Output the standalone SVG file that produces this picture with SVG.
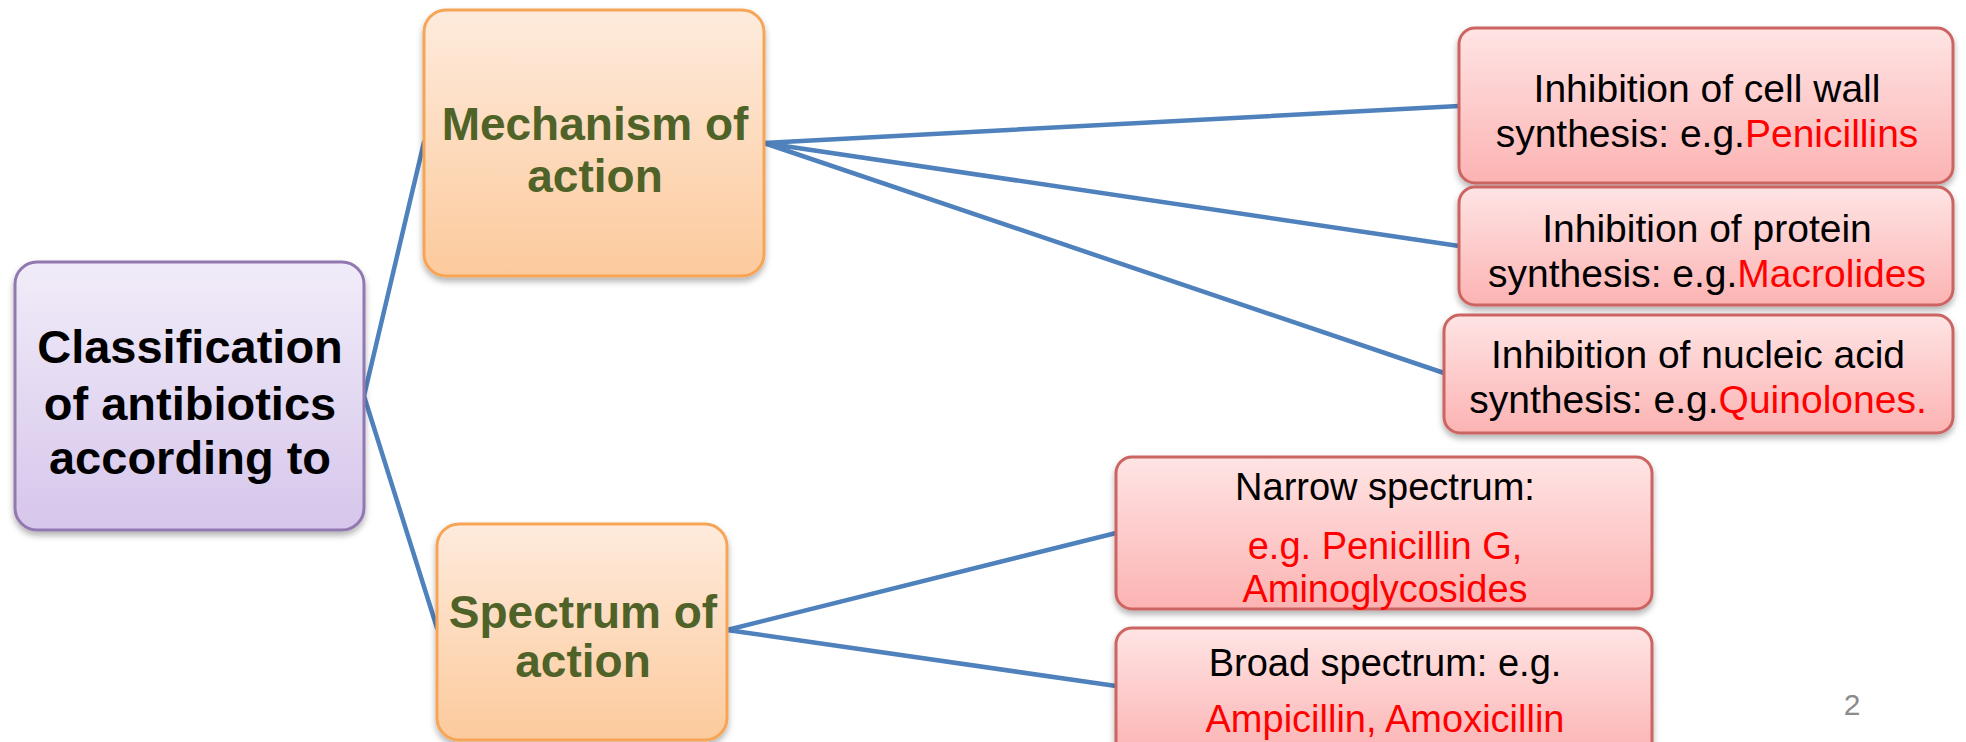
<svg xmlns="http://www.w3.org/2000/svg" width="1966" height="742" viewBox="0 0 1966 742">
<defs>
<linearGradient id="gPurple" x1="0" y1="0" x2="0" y2="1"><stop offset="0" stop-color="#F1ECF9"/><stop offset="1" stop-color="#D6C6EB"/></linearGradient>
<linearGradient id="gOrange" x1="0" y1="0" x2="0" y2="1"><stop offset="0" stop-color="#FEEBDD"/><stop offset="1" stop-color="#FCCA9C"/></linearGradient>
<linearGradient id="gRed" x1="0" y1="0" x2="0" y2="1"><stop offset="0" stop-color="#FFE4E4"/><stop offset="1" stop-color="#FCB3B3"/></linearGradient>
<filter id="shadow" x="-10%" y="-10%" width="120%" height="130%"><feDropShadow dx="0" dy="4" stdDeviation="3" flood-color="#000" flood-opacity="0.3"/></filter>
<style>
.root{fill:url(#gPurple);stroke:#9278B0;stroke-width:3;filter:url(#shadow)}
.mid{fill:url(#gOrange);stroke:#F6A556;stroke-width:3;filter:url(#shadow)}
.leaf{fill:url(#gRed);stroke:#CC6562;stroke-width:3;filter:url(#shadow)}
.conn line{stroke:#4F81BD;stroke-width:4.5;stroke-linecap:round}
text{font-family:"Liberation Sans",Arial,sans-serif;text-anchor:middle}
.tRoot{font-size:47px;font-weight:bold;fill:#000}
.tMid{font-size:46px;font-weight:bold;fill:#4F6228}
.tLeaf{font-size:39px;fill:#000}
.tLeaf2{font-size:38px;fill:#000}
.red{fill:#FF0000}
.pg{font-size:30px;fill:#8C8C8C}
</style>
</defs>
<rect width="1966" height="742" fill="#fff"/>
<g id="connectors" class="conn">
<line x1="364" y1="396" x2="424" y2="142"/>
<line x1="364" y1="396" x2="437" y2="628"/>
<line x1="764" y1="143" x2="1459" y2="106"/>
<line x1="764" y1="143" x2="1459" y2="246"/>
<line x1="764" y1="143" x2="1444" y2="373"/>
<line x1="727" y1="630" x2="1116" y2="533"/>
<line x1="727" y1="630" x2="1116" y2="686"/>
</g>
<g id="root">
<rect class="root" x="15" y="262" width="349" height="268" rx="22"/>
<text class="tRoot" x="190" y="363">Classification</text>
<text class="tRoot" x="190" y="420">of antibiotics</text>
<text class="tRoot" x="190" y="474">according to</text>
</g>
<g id="mechanism">
<rect class="mid" x="424" y="10" width="340" height="266" rx="22"/>
<text class="tMid" x="595" y="140">Mechanism of</text>
<text class="tMid" x="595" y="192">action</text>
</g>
<g id="spectrum">
<rect class="mid" x="437" y="524" width="290" height="216" rx="22"/>
<text class="tMid" x="583" y="628">Spectrum of</text>
<text class="tMid" x="583" y="677">action</text>
</g>
<g id="cellwall">
<rect class="leaf" x="1459" y="28" width="494" height="155" rx="16"/>
<text class="tLeaf" x="1707" y="102">Inhibition of cell wall</text>
<text class="tLeaf" x="1707" y="147">synthesis: e.g.<tspan class="red">Penicillins</tspan></text>
</g>
<g id="protein">
<rect class="leaf" x="1459" y="187" width="494" height="118" rx="16"/>
<text class="tLeaf" x="1707" y="242">Inhibition of protein</text>
<text class="tLeaf" x="1707" y="287">synthesis: e.g.<tspan class="red">Macrolides</tspan></text>
</g>
<g id="nucleic">
<rect class="leaf" x="1444" y="315" width="509" height="118" rx="16"/>
<text class="tLeaf" x="1698" y="368">Inhibition of nucleic acid</text>
<text class="tLeaf" x="1698" y="413">synthesis: e.g.<tspan class="red">Quinolones.</tspan></text>
</g>
<g id="narrow">
<rect class="leaf" x="1116" y="457" width="536" height="152" rx="16"/>
<text class="tLeaf2" x="1385" y="500">Narrow spectrum:</text>
<text class="tLeaf2 red" x="1385" y="559">e.g. Penicillin G,</text>
<text class="tLeaf2 red" x="1385" y="602">Aminoglycosides</text>
</g>
<g id="broad">
<rect class="leaf" x="1116" y="628" width="536" height="130" rx="16"/>
<text class="tLeaf2" x="1385" y="676">Broad spectrum: e.g.</text>
<text class="tLeaf2 red" x="1385" y="732">Ampicillin, Amoxicillin</text>
</g>
<text class="pg" x="1852" y="715">2</text>
</svg>
